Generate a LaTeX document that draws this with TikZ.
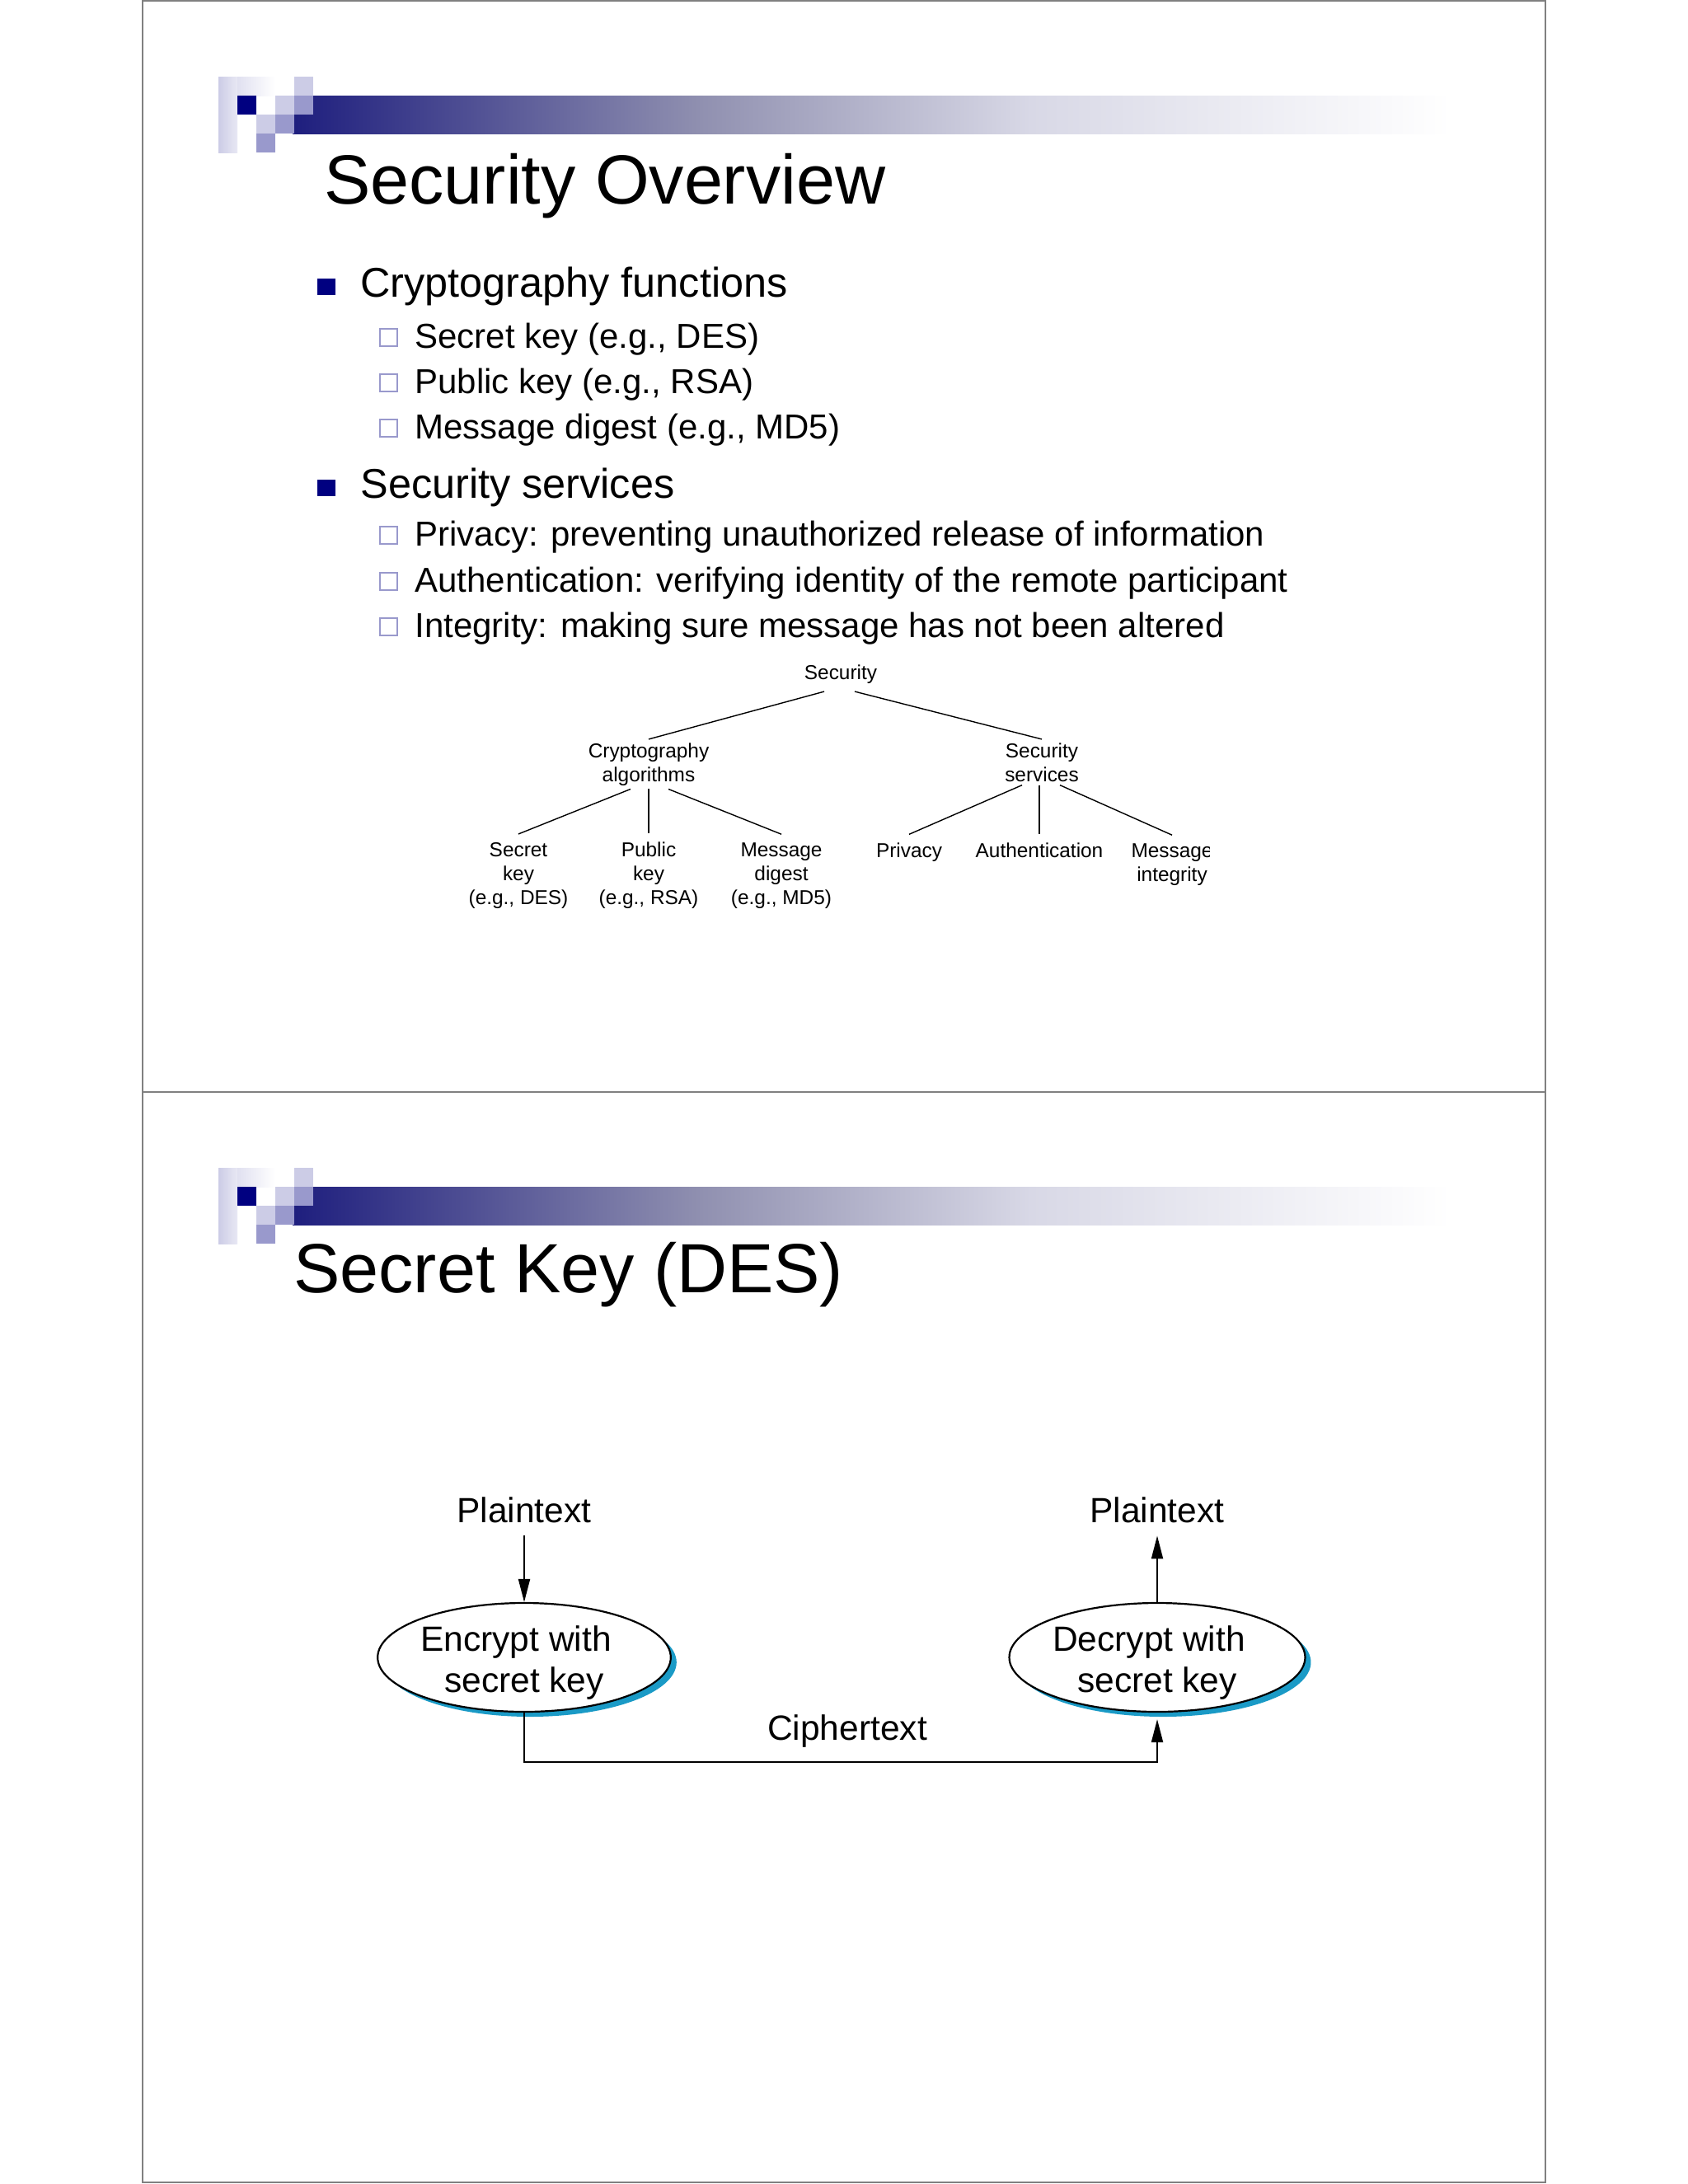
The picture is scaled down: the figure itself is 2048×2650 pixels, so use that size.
\documentclass[tikz,border=0pt]{standalone}
\usepackage{fontspec}
\setmainfont{Liberation Sans}
\usetikzlibrary{arrows.meta,positioning,shapes.geometric,shadows}
\definecolor{Nv}{HTML}{000080}
\definecolor{Bl}{HTML}{1E1E7E}
\definecolor{Gm}{HTML}{9090B0}
\definecolor{Gl}{HTML}{D8D8E6}
\definecolor{Lv}{HTML}{CCCCE6}
\definecolor{Mv}{HTML}{9999CC}
\definecolor{Sh}{HTML}{1A9AC6}
\definecolor{Fr}{HTML}{808080}
\newcommand{\ttlfont}{\fontsize{42.25}{50}\selectfont}
\newcommand{\lvone}{\fontsize{25.2}{30}\selectfont}
\newcommand{\lvtwo}{\fontsize{21}{25}\selectfont}
\newcommand{\trfont}{\fontsize{12.2}{14.5}\selectfont}
\newcommand{\fgfont}{\fontsize{21.25}{25}\selectfont}
% two lines set from the first baseline, 4pt above the ellipse centre
\newcommand{\twoline}[2]{\raisebox{4pt}[0pt][0pt]{\begin{tabular}[t]{@{}c@{}}#1\hspace*{10pt}\\#2\end{tabular}}}
\tikzset{
  ttl/.style={anchor=base west, inner sep=0pt, font=\ttlfont},
  itemA/.style={anchor=base west, inner sep=0pt, font=\lvone},
  itemB/.style={anchor=base west, inner sep=0pt, font=\lvtwo},
  treelbl/.style={anchor=base, align=center, inner sep=2pt, font=\trfont},
  branch/.style={line width=0.7pt},
  subbox/.style={draw=Mv, line width=1pt},
  ptext/.style={anchor=base, inner sep=0pt, outer sep=8pt, font=\fgfont},
  cbox/.style={ellipse, draw, line width=1.1pt, fill=white, minimum width=177.5pt,
    minimum height=66pt, inner sep=0pt, font=\fgfont,
    drop shadow={shadow xshift=3.5pt, shadow yshift=-3pt, fill=Sh, opacity=1}},
  flow/.style={-{Triangle[length=14pt, width=7pt]}, line width=1pt},
}
% header squares and bar, #1 = top edge of the slide
\newcommand{\slidehead}[1]{%
  \shade[left color=Lv, right color=Lv!45] (265,#1+93) rectangle (288,#1+185);
  \shade[left color=Lv!60, right color=white] (288,#1+93) rectangle (334,#1+116);
  \shade[left color=Bl, right color=Gm] (355,#1+116) rectangle (850.5,#1+162);
  \shade[left color=Gm, right color=Gl] (850,#1+116) rectangle (1250.5,#1+162);
  \shade[left color=Gl, right color=white] (1250,#1+116) rectangle (1760,#1+162);
  \fill[Nv] (288,#1+116) rectangle (311,#1+139);
  \fill[Lv] (334,#1+116) rectangle (357,#1+139);
  \fill[Lv] (357,#1+93) rectangle (380,#1+116);
  \fill[Mv] (357,#1+116) rectangle (380,#1+139);
  \fill[Lv] (311,#1+139) rectangle (334,#1+162);
  \fill[Mv] (334,#1+139) rectangle (357,#1+162);
  \fill[Mv] (311,#1+162) rectangle (334,#1+185);}

\begin{document}
\begin{tikzpicture}[x=0.5pt, y=-0.5pt]
  \useasboundingbox (0,0) rectangle (2048,2650);
  \fill[white] (0,0) rectangle (2048,2650);
  \draw[Fr, line width=1.2pt] (173,1) rectangle (1875,1325) (173,1325) rectangle (1875,2648);
  \slidehead{0}
  \slidehead{1324}
  % slide 1
  \node[ttl] (t1) at (393,247) {Security Overview};
  \foreach \yy in {360,604} \fill[Nv] (385,\yy-22) rectangle (407,\yy-2);
  \foreach \yy in {422,477,532,662,718,773} \draw[subbox] (461,\yy-23) rectangle (482,\yy-2);
  \node[itemA] (cf) at (437,360) {Cryptography functions};
  \node[itemB] (sk) at (503,422) {Secret key (e.g., DES)};
  \node[itemB] (pk) at (503,477) {Public key (e.g., RSA)};
  \node[itemB] (md) at (503,532) {Message digest (e.g., MD5)};
  \node[itemA] (ss) at (437,604) {Security services};
  \node[itemB] (pv) at (503,662) {Privacy: preventing unauthorized release of information};
  \node[itemB] (au) at (503,718) {Authentication: verifying identity of the remote participant};
  \node[itemB] (ig) at (503,773) {Integrity: making sure message has not been altered};
  % tree (base anchor sits on the last line)
  \node[treelbl, outer ysep=3pt] (sec) at (1020,824) {Security};
  \node[treelbl] (crypt) at (787,948) {Cryptography\\algorithms};
  \node[treelbl] (serv) at (1264,948) {Security\\services};
  \node[treelbl, outer ysep=3pt] (skey) at (629,1097) {Secret\\key\\(e.g., DES)};
  \node[treelbl, outer ysep=3pt] (pkey) at (787,1097) {Public\\key\\(e.g., RSA)};
  \node[treelbl, outer ysep=3pt] (mdig) at (948,1097) {Message\\digest\\(e.g., MD5)};
  \node[treelbl, outer ysep=3pt] (priv) at (1103,1040) {Privacy};
  \node[treelbl, outer ysep=3pt] (auth) at (1261,1040) {Authentication};
  \begin{scope}
    \clip (1300,990) rectangle (1467,1120);
    \node[treelbl, outer ysep=3pt] (mint) at (1422,1069) {Message\\integrity};
  \end{scope}
  \draw[branch] ([xshift=-10pt]sec.south) -- (crypt.north);
  \draw[branch] ([xshift=8.5pt]sec.south) -- (serv.north);
  \draw[branch] ([xshift=-11pt]crypt.south) -- (skey.north);
  \draw[branch] (crypt.south) -- (pkey.north);
  \draw[branch] ([xshift=12pt]crypt.south) -- (mdig.north);
  \draw[branch] ([xshift=-12pt]serv.south) -- (priv.north);
  \draw[branch] ([xshift=-1.5pt]serv.south) -- (auth.north);
  \draw[branch] ([xshift=11pt]serv.south) -- (mint.north);
  % slide 2
  \node[ttl] (t2) at (356,1568) {Secret Key (DES)};
  \node[ptext] (pin) at (636,1847) {Plaintext};
  \node[ptext] (pout) at (1404,1847) {Plaintext};
  \node[cbox] (enc) at (636,2011) {\twoline{Encrypt with}{secret key}};
  \node[cbox] (dec) at (1404,2011) {\twoline{Decrypt with}{secret key}};
  \node[anchor=base, inner sep=0pt, font=\fgfont] (ciph) at (1028,2111) {Ciphertext};
  \draw[flow] (pin.south) -- (enc.north);
  \draw[flow] (dec.north) -- (pout.south);
  \draw[flow] (enc.south) -- ++(0,60) -| ([yshift=-4pt]dec.south);
\end{tikzpicture}
\end{document}
